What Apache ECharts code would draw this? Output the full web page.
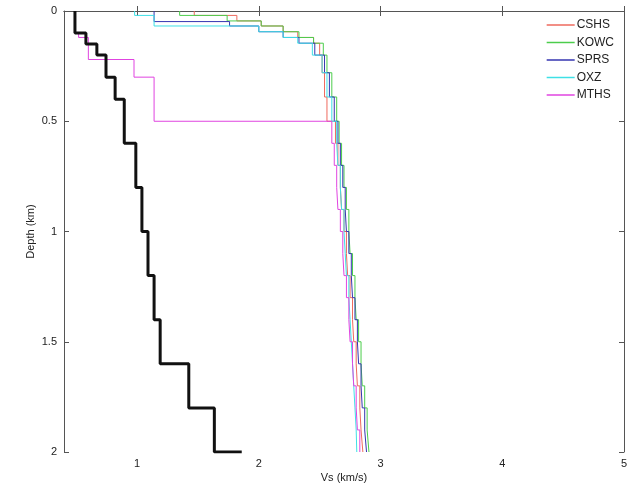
<!DOCTYPE html>
<html><head><meta charset="utf-8">
<script src="https://cdn.jsdelivr.net/npm/echarts@6/dist/echarts.min.js"></script>
<style>html,body{margin:0;padding:0;background:#fff}#c{width:637px;height:493px}</style>
</head><body><div id="c"></div>
<script>
// Depth (km) of layer tops and Vs (km/s) per layer
var bottomDepth = 2.0;
var xTicks = [1, 2, 3, 4, 5];
var yTicks = [0, 0.5, 1, 1.5, 2];

var deepTops = [0.5, 0.6, 0.7, 0.8, 0.9, 1.0, 1.1, 1.2, 1.3, 1.4, 1.5, 1.6, 1.7, 1.8, 1.9];

var cshsTops = [0, 0.02, 0.045, 0.068, 0.094, 0.12, 0.146, 0.2, 0.28, 0.39];
var cshsVs   = [1.47, 1.82, 2.02, 2.2, 2.32, 2.45, 2.5, 2.52, 2.54, 2.56];
var cshsDeep = [2.63, 2.65, 2.67, 2.68, 2.7, 2.72, 2.73, 2.75, 2.77, 2.78, 2.8, 2.81, 2.83, 2.84, 2.855];

var kowcTops = [0, 0.02, 0.045, 0.068, 0.094, 0.12, 0.146, 0.2, 0.28, 0.39];
var kowcVs   = [1.35, 1.74, 2.02, 2.2, 2.33, 2.45, 2.53, 2.56, 2.6, 2.64];
var kowcDeep = [2.66, 2.68, 2.7, 2.72, 2.74, 2.75, 2.77, 2.79, 2.8, 2.82, 2.84, 2.85, 2.87, 2.89, 2.905];

var sprsTops = [0, 0.048, 0.068, 0.094, 0.12, 0.146, 0.2, 0.28, 0.39];
var sprsVs   = [1.14, 1.76, 2.0, 2.2, 2.33, 2.46, 2.54, 2.58, 2.62];
var sprsDeep = [2.65, 2.67, 2.69, 2.71, 2.72, 2.74, 2.76, 2.77, 2.79, 2.81, 2.82, 2.84, 2.85, 2.87, 2.885];

var oxzTops = [0, 0.02, 0.068, 0.094, 0.12, 0.146, 0.2, 0.28, 0.39];
var oxzVs   = [0.98, 1.14, 2.0, 2.2, 2.32, 2.44, 2.52, 2.56, 2.6];
var oxzDeep = [2.64, 2.65, 2.67, 2.68, 2.7, 2.71, 2.72, 2.74, 2.75, 2.76, 2.77, 2.78, 2.79, 2.8, 2.805];

var mthsTops = [0, 0.1, 0.12, 0.22, 0.3];
var mthsVs   = [0.49, 0.52, 0.6, 0.975, 1.14];
var mthsDeep = [2.6, 2.62, 2.64, 2.65, 2.67, 2.69, 2.7, 2.72, 2.74, 2.75, 2.77, 2.78, 2.8, 2.81, 2.83];

var refTops = [0, 0.1, 0.15, 0.2, 0.3, 0.4, 0.6, 0.8, 1.0, 1.2, 1.4, 1.6, 1.8, 2.0];
var refVs   = [0.49, 0.58, 0.67, 0.745, 0.82, 0.895, 0.99, 1.04, 1.09, 1.14, 1.19, 1.425, 1.635, 1.86];

var names  = ['CSHS', 'KOWC', 'SPRS', 'OXZ', 'MTHS'];
var colors = ['#ee6a5e', '#4ccd4c', '#3535b0', '#3fe0e6', '#e044e0'];

function steps(tops, vs) {
  var pts = [];
  for (var i = 0; i < tops.length; i++) {
    var next = i + 1 < tops.length ? tops[i + 1] : bottomDepth;
    pts.push([vs[i], tops[i]]);
    pts.push([vs[i], next]);
  }
  return pts;
}

var profiles = [
  steps(cshsTops.concat(deepTops), cshsVs.concat(cshsDeep)),
  steps(kowcTops.concat(deepTops), kowcVs.concat(kowcDeep)),
  steps(sprsTops.concat(deepTops), sprsVs.concat(sprsDeep)),
  steps(oxzTops.concat(deepTops), oxzVs.concat(oxzDeep)),
  steps(mthsTops.concat(deepTops), mthsVs.concat(mthsDeep))
];

var series = profiles.map(function (d, i) {
  return {
    name: names[i], type: 'line', data: d, symbol: 'none', animation: false,
    lineStyle: { width: 1, color: colors[i] }, itemStyle: { color: colors[i] }
  };
});
series.push({
  name: 'ref', type: 'line', data: steps(refTops, refVs), symbol: 'none', animation: false,
  lineStyle: { width: 3, color: '#111' }, z: 5
});

var font = 'Liberation Sans, Arial, sans-serif';
var axisLineStyle = { color: '#555', width: 1 };
var chart = echarts.init(document.getElementById('c'));
chart.setOption({
  animation: false,
  backgroundColor: '#fff',
  grid: { left: 64, right: 13, top: 11, bottom: 41 },
  legend: {
    data: names.map(function (n) { return { name: n, icon: 'rect' }; }),
    orient: 'vertical', right: 18, top: 14, itemWidth: 28, itemHeight: 1.5, itemGap: 5.5,
    textStyle: { fontFamily: font, fontSize: 12, color: '#222', lineHeight: 12, padding: [0, 0, 0, -3] }
  },
  xAxis: [{
    type: 'value', min: 0.4, max: 5, position: 'bottom',
    name: 'Vs (km/s)', nameLocation: 'middle', nameGap: 20, nameMoveOverlap: false,
    nameTextStyle: { fontFamily: font, fontSize: 11, color: '#222' },
    axisLine: { show: true, lineStyle: axisLineStyle },
    axisTick: { show: true, inside: true, length: 5, customValues: xTicks, lineStyle: axisLineStyle },
    axisLabel: { customValues: xTicks, fontFamily: font, fontSize: 11, color: '#222', margin: 6 },
    splitLine: { show: false }
  }, {
    type: 'value', min: 0.4, max: 5, position: 'top',
    axisLine: { show: true, lineStyle: axisLineStyle },
    axisTick: { show: true, inside: true, length: 5, customValues: xTicks, lineStyle: axisLineStyle },
    axisLabel: { show: false }, splitLine: { show: false }
  }],
  yAxis: [{
    type: 'value', min: 0, max: 2, interval: 0.5, inverse: true, position: 'left',
    name: 'Depth (km)', nameLocation: 'middle', nameGap: 28, nameRotate: 90, nameMoveOverlap: false,
    nameTextStyle: { fontFamily: font, fontSize: 11, color: '#222' },
    axisLine: { show: true, lineStyle: axisLineStyle },
    axisTick: { show: true, inside: true, length: 5, lineStyle: axisLineStyle },
    axisLabel: { fontFamily: font, fontSize: 11, color: '#222', margin: 7 },
    splitLine: { show: false }
  }, {
    type: 'value', min: 0, max: 2, interval: 0.5, inverse: true, position: 'right',
    axisLine: { show: true, lineStyle: axisLineStyle },
    axisTick: { show: true, inside: true, length: 5, lineStyle: axisLineStyle },
    axisLabel: { show: false }, splitLine: { show: false }
  }],
  series: series
});
</script></body></html>
